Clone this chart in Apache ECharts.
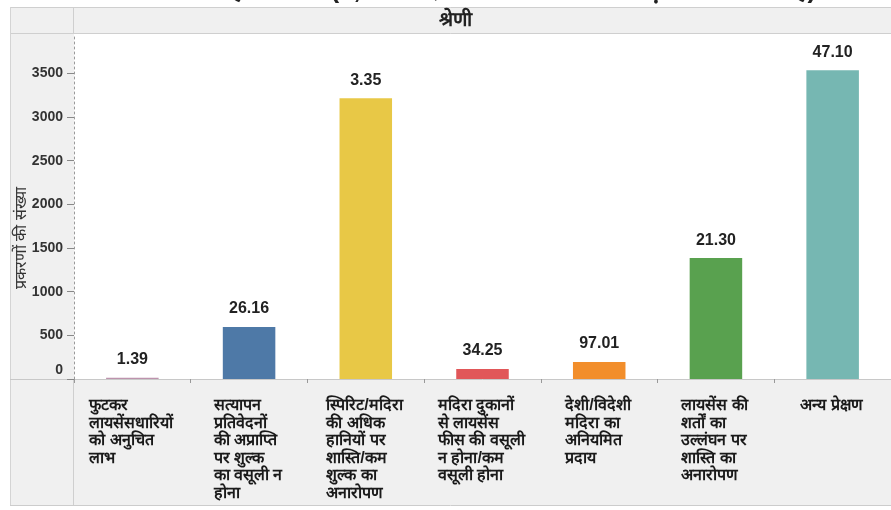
<!DOCTYPE html>
<html>
<head>
<meta charset="utf-8">
<script src="https://cdn.jsdelivr.net/npm/echarts@6/dist/echarts.min.js"></script>
<style>
  html, body { margin: 0; padding: 0; background: #ffffff; }
  #chart { width: 891px; height: 510px; }
</style>
</head>
<body>
<div id="chart"></div>
<script>
// Observation categories (x axis)
const categories = [
  'फुटकर\nलायसेंसधारियों\nको अनुचित\nलाभ',
  'सत्यापन\nप्रतिवेदनों\nकी अप्राप्ति\nपर शुल्क\nका वसूली न\nहोना',
  'स्पिरिट/मदिरा\nकी अधिक\nहानियों पर\nशास्ति/कम\nशुल्क का\nअनारोपण',
  'मदिरा दुकानों\nसे लायसेंस\nफीस की वसूली\nन होना/कम\nवसूली होना',
  'देशी/विदेशी\nमदिरा का\nअनियमित\nप्रदाय',
  'लायसेंस की\nशर्तों का\nउल्लंघन पर\nशास्ति का\nअनारोपण',
  'अन्य प्रेक्षण'
];
// Number of cases per category (bar heights)
const caseCounts = [14, 595, 3215, 115, 195, 1384, 3535];
// Amount involved (₹ crore) printed above each bar
const amountLabels = ['1.39', '26.16', '3.35', '34.25', '97.01', '21.30', '47.10'];
// Value axis ticks
const yTicks = [0, 500, 1000, 1500, 2000, 2500, 3000, 3500];

const chartTitle = 'राजस्व निहित मामले (9,054 प्रेक्षणों में ₹ 230.56 करोड़ राशि शामिल है)';
const headerText = 'श्रेणी';
const yAxisTitle = 'प्रकरणों की संख्या';

const barColors = ['#bd93ad', '#4e79a7', '#e8c846', '#e15759', '#f28e2b', '#59a14f', '#76b7b2'];

const FONT = "'Liberation Sans', Arial, sans-serif";
const CAT_SIZE = 16;
const catFont = 'bold ' + CAT_SIZE + 'px ' + FONT;

// Width of the widest line of each category label, so lines stay left-aligned inside a centred block
const measureCtx = document.createElement('canvas').getContext('2d');
measureCtx.font = catFont;
const richStyles = {};
categories.forEach((c, i) => {
  const w = Math.max(...c.split('\n').map(s => measureCtx.measureText(s).width));
  richStyles['c' + i] = {
    width: Math.ceil(w) + 2, align: 'left', fontSize: CAT_SIZE, fontWeight: 'bold',
    fontFamily: FONT, color: '#1a1a1a', lineHeight: 17.5
  };
});
richStyles.zero = { padding: [0, 0, 18, 0], fontSize: 14, fontWeight: 'bold', fontFamily: FONT, color: '#333' };

const chart = echarts.init(document.getElementById('chart'), null, { renderer: 'canvas' });

const option = {
  backgroundColor: '#f0f0f0',
  animation: false,
  grid: {
    left: 74, right: -3, top: 34, bottom: 131,
    show: true, backgroundColor: '#ffffff', borderWidth: 0
  },
  graphic: [
    // white strip above the header band and at the outer edges
    { type: 'rect', shape: { x: 0, y: 0, width: 891, height: 7 }, style: { fill: '#ffffff' }, silent: true, z: -1 },
    { type: 'rect', shape: { x: 0, y: 0, width: 10, height: 510 }, style: { fill: '#ffffff' }, silent: true, z: -1 },
    { type: 'rect', shape: { x: 0, y: 505, width: 891, height: 5 }, style: { fill: '#ffffff' }, silent: true, z: -1 },
    // frame lines
    { type: 'line', shape: { x1: 10, y1: 7.5, x2: 891, y2: 7.5 }, style: { stroke: '#cfcfcf', lineWidth: 1 }, silent: true },
    { type: 'line', shape: { x1: 10, y1: 33.5, x2: 891, y2: 33.5 }, style: { stroke: '#cfcfcf', lineWidth: 1 }, silent: true },
    { type: 'line', shape: { x1: 10.5, y1: 7, x2: 10.5, y2: 505 }, style: { stroke: '#d4d4d4', lineWidth: 1 }, silent: true },
    { type: 'line', shape: { x1: 73.5, y1: 7, x2: 73.5, y2: 34 }, style: { stroke: '#cfcfcf', lineWidth: 1 }, silent: true },
    { type: 'line', shape: { x1: 73.5, y1: 380, x2: 73.5, y2: 505 }, style: { stroke: '#cfcfcf', lineWidth: 1 }, silent: true },
    { type: 'line', shape: { x1: 10, y1: 379.5, x2: 74, y2: 379.5 }, style: { stroke: '#c8c8c8', lineWidth: 1 }, silent: true },
    { type: 'line', shape: { x1: 10, y1: 505.5, x2: 891, y2: 505.5 }, style: { stroke: '#cccccc', lineWidth: 1 }, silent: true },
    // chart title, running off the top edge
    { type: 'text', x: 475, y: -9, style: { text: chartTitle, align: 'center', verticalAlign: 'middle', font: 'bold 26px ' + FONT, fill: '#222' }, silent: true },
    // header band
    { type: 'text', x: 455, y: 20, style: { text: headerText, align: 'center', verticalAlign: 'middle', font: 'bold 20px ' + FONT, fill: '#222' }, silent: true },
    // value axis title
    { type: 'text', x: 22, y: 238, rotation: Math.PI / 2, style: { text: yAxisTitle, align: 'center', verticalAlign: 'middle', font: '16px ' + FONT, fill: '#333' }, silent: true }
  ],
  xAxis: {
    type: 'category',
    data: categories,
    axisLine: { show: true, lineStyle: { color: '#c8c8c8', width: 1 } },
    axisTick: { show: true, length: 4, lineStyle: { color: '#999' } },
    axisLabel: {
      margin: 18,
      interval: 0,
      verticalAlign: 'top',
      formatter: (val, idx) => val.split('\n').map(s => '{c' + idx + '|' + s + '}').join('\n'),
      rich: richStyles
    }
  },
  yAxis: {
    type: 'value',
    min: 0,
    max: 3950,
    interval: 500,
    splitLine: { show: false },
    axisLine: { show: true, lineStyle: { color: '#9a9a9a', type: [2, 3], width: 1 } },
    axisTick: { show: true, length: 7, lineStyle: { color: '#888' }, customValues: yTicks },
    axisLabel: {
      margin: 11,
      fontSize: 14,
      fontWeight: 'bold',
      fontFamily: FONT,
      color: '#333',
      customValues: yTicks,
      formatter: v => (v === 0 ? '{zero|0}' : String(v)),
      rich: richStyles
    }
  },
  series: [{
    type: 'bar',
    barWidth: '45%',
    data: caseCounts.map((v, i) => ({ value: v, itemStyle: { color: barColors[i] } })),
    label: {
      show: true,
      position: 'top',
      distance: 10,
      fontSize: 16,
      fontWeight: 'bold',
      fontFamily: FONT,
      color: '#222',
      formatter: p => amountLabels[p.dataIndex]
    }
  }]
};

chart.setOption(option);
</script>
</body>
</html>
